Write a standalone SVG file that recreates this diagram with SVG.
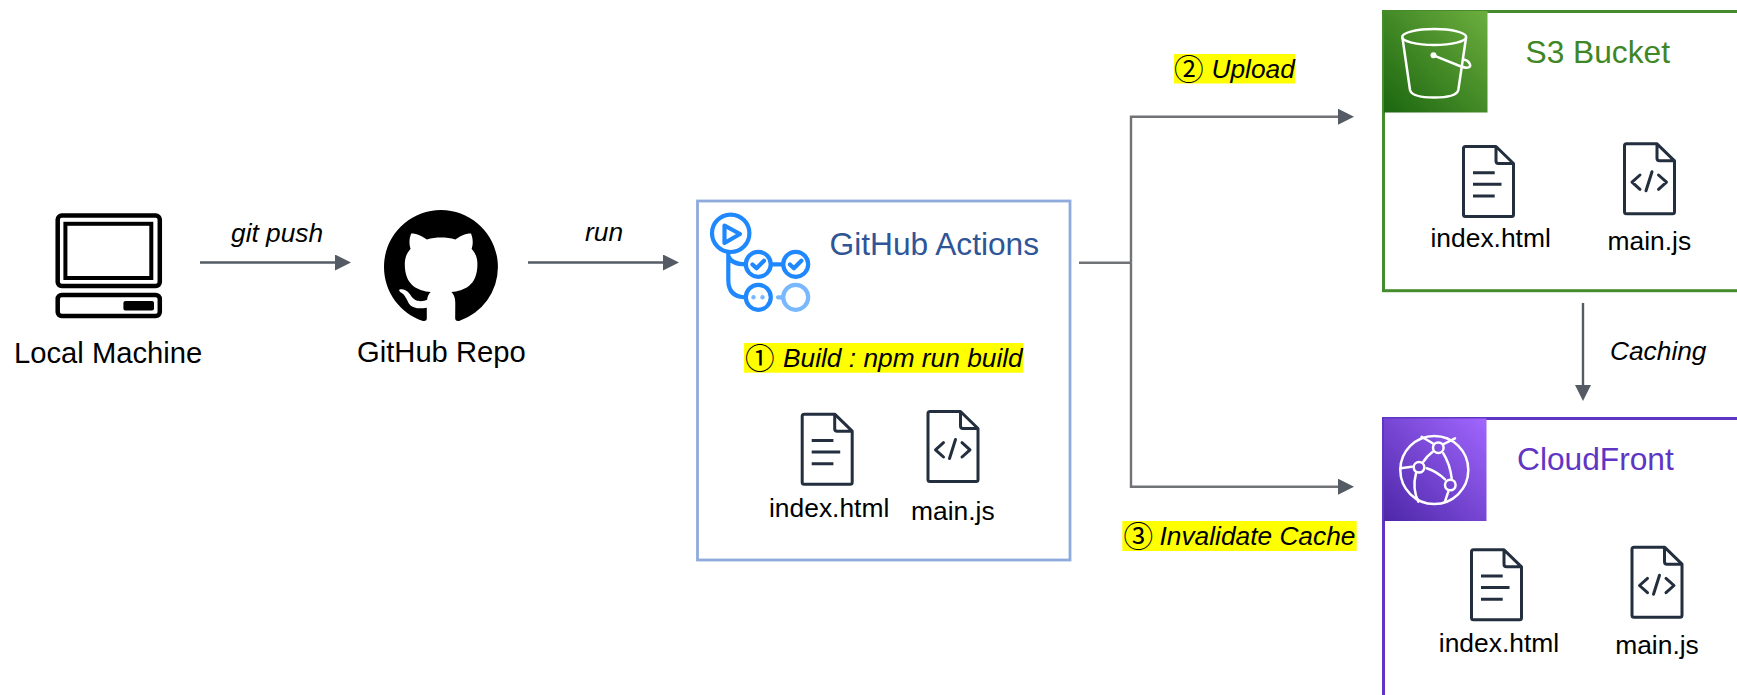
<svg xmlns="http://www.w3.org/2000/svg" width="1737" height="695" viewBox="0 0 1737 695">
<style>
text{font-family:"Liberation Sans",Arial,sans-serif;fill:#000}
.lb{font-size:26.4px}
.big{font-size:29.2px}
.ti{font-size:31.7px}
.it{font-size:26.3px;font-style:italic}
.cd{font-family:"Noto Sans CJK JP","DejaVu Sans",sans-serif;font-style:normal;font-size:29.6px}
.hl{fill:#ff0}
.con{fill:none;stroke:#545b64;stroke-width:2.4}
.doc{fill:none;stroke:#232f3e;stroke-width:3;stroke-linejoin:round}
.w{fill:none;stroke:#fff;stroke-width:2.5;stroke-linecap:round;stroke-linejoin:round}
.pc{fill:none;stroke:#000;stroke-width:4.5}
.ga{fill:none;stroke:#2088ff;stroke-width:4.2;stroke-linejoin:round;stroke-linecap:round}
.gl{fill:none;stroke:#79b8ff;stroke-width:4.2;stroke-linecap:round}
</style>
<defs>
<marker id="ah" markerUnits="userSpaceOnUse" markerWidth="16" markerHeight="16" refX="0" refY="8" orient="auto"><path d="M0 0L16 8L0 16z" fill="#545b64"/></marker>
<linearGradient id="gs" x1="0" y1="1" x2="1" y2="0"><stop offset="0" stop-color="#1b660f"/><stop offset="1" stop-color="#6cae3e"/></linearGradient>
<linearGradient id="gc" x1="0" y1="1" x2="1" y2="0"><stop offset="0" stop-color="#4d27a8"/><stop offset="1" stop-color="#a166ff"/></linearGradient>
<g id="fhtml"><path class="doc" d="M3.5 1.5H34L51.5 18.5V69.5Q51.5 71.500 49.500 71.500H3.500Q1.500 71.500 1.500 69.500V3.500Q1.500 1.500 3.500 1.500ZM34 1.500V16Q34 18.500 36.500 18.500H51.500"/><path class="doc" d="M11 27.700H32.700M11 39.300H39.500M11 51H32.700"/></g>
<g id="fjs"><path class="doc" d="M3.500 1.500H34L51.500 18.500V69.500Q51.500 71.500 49.500 71.500H3.500Q1.500 71.500 1.500 69.500V3.500Q1.500 1.500 3.500 1.500ZM34 1.500V16Q34 18.500 36.500 18.500H51.500"/><path class="doc" stroke-linecap="round" d="M17 32.700L9 39.800L17 47M35.500 32.700L43.500 39.800L35.500 47M29 29.500L23 48.500"/></g>
</defs>
<rect width="1737" height="695" fill="#fff"/>

<g id="connectors">
<path class="con" marker-end="url(#ah)" d="M200 262.500H335"/>
<path class="con" marker-end="url(#ah)" d="M528 262.500H663"/>
<path class="con" style="stroke:#707276" d="M1079 262.700H1131"/>
<path class="con" style="stroke:#707276" marker-end="url(#ah)" d="M1131 262.700V116.700H1338"/>
<path class="con" style="stroke:#707276" marker-end="url(#ah)" d="M1131 262.700V486.700H1338"/>
<path class="con" marker-end="url(#ah)" d="M1583 303V385"/>
</g>

<g id="edge-labels">
<text class="it" x="231" y="241.500">git push</text>
<text class="it" x="585" y="241">run</text>
<rect class="hl" x="1174" y="54" width="121" height="29.500"/>
<text class="it"><tspan class="cd" x="1174" y="80">②</tspan><tspan x="1211.500" y="77.500">Upload</tspan></text>
<rect class="hl" x="1122.300" y="521" width="234.400" height="30"/>
<text class="it"><tspan class="cd" x="1123.500" y="547">③</tspan><tspan x="1159.500" y="544.500">Invalidate Cache</tspan></text>
<text class="it" x="1610" y="359.500">Caching</text>
</g>

<g id="local-machine">
<rect class="pc" x="57.700" y="215.600" width="102.100" height="70.400" rx="4"/>
<rect class="pc" style="stroke-width:4" x="65.400" y="223.800" width="85.900" height="54.200"/>
<rect class="pc" x="57.700" y="295" width="102.100" height="21" rx="4"/>
<rect x="123.400" y="301" width="30.600" height="9.500" rx="2" fill="#000"/>
<text class="big" x="14" y="363">Local Machine</text>
</g>

<g id="github-repo">
<path transform="translate(384 210) scale(7.120)" fill="#000" d="M8 0C3.580 0 0 3.580 0 8c0 3.540 2.290 6.530 5.470 7.590.4.07.55-.17.55-.38 0-.19-.01-.82-.01-1.490-2.010.37-2.530-.49-2.690-.94-.09-.23-.48-.94-.82-1.130-.28-.15-.68-.52-.01-.53.63-.01 1.080.58 1.230.82.72 1.210 1.870.87 2.330.66.07-.52.28-.87.51-1.070-1.780-.2-3.640-.89-3.640-3.950 0-.87.31-1.590.82-2.150-.08-.2-.36-1.020.08-2.120 0 0 .67-.21 2.200.82.64-.18 1.320-.27 2-.27.68 0 1.360.09 2 .27 1.530-1.040 2.200-.82 2.200-.82.44 1.100.16 1.920.08 2.120.51.56.82 1.270.82 2.150 0 3.070-1.870 3.750-3.650 3.950.29.25.54.73.54 1.480 0 1.070-.01 1.930-.01 2.200 0 .21.15.46.55.38A8.013 8.013 0 0016 8c0-4.420-3.580-8-8-8z"/>
<text class="big" x="357" y="362">GitHub Repo</text>
</g>

<g id="github-actions">
<rect x="697.500" y="201" width="372.500" height="359" fill="none" stroke="#8faadc" stroke-width="2.800"/>
<circle class="ga" cx="730.700" cy="233.300" r="18.700"/>
<path class="ga" d="M724.500 225.500L740 234L724.500 243Z"/>
<path class="ga" d="M728.300 252V280Q728.300 297.300 746 297.300M728.300 256Q731 264.300 746 264.300M770.800 264.300H783.200"/>
<circle class="ga" cx="758.300" cy="264.300" r="12.500"/>
<circle class="ga" cx="795.700" cy="264.300" r="12.500"/>
<circle class="ga" cx="758.300" cy="297.300" r="12.500"/>
<circle class="gl" cx="795.700" cy="297.300" r="12.500"/>
<path class="gl" d="M778 297.300H782"/>
<circle cx="753.500" cy="297.300" r="2.200" fill="#79b8ff"/>
<circle cx="762.500" cy="297.300" r="2.200" fill="#79b8ff"/>
<path class="ga" d="M752.500 264.500L756.500 268.300L764 260.800M789.900 264.500L793.900 268.300L801.400 260.800"/>
<text class="ti" x="829.500" y="255" style="fill:#2f5597">GitHub Actions</text>
<rect class="hl" x="744" y="343" width="279.300" height="29.700"/>
<text class="it"><tspan class="cd" x="745" y="369.200">①</tspan><tspan x="783" y="366.700">Build : npm run build</tspan></text>
<use href="#fhtml" x="800.700" y="412.700"/>
<use href="#fjs" x="926.500" y="410"/>
<text class="lb" x="769" y="517">index.html</text>
<text class="lb" x="911" y="519.500">main.js</text>
</g>

<g id="s3-bucket">
<rect x="1383.500" y="11.500" width="420" height="279.200" fill="none" stroke="#458b2d" stroke-width="3"/>
<rect x="1384" y="11" width="103.500" height="101.500" fill="url(#gs)"/>
<ellipse class="w" cx="1434.200" cy="37" rx="32" ry="8"/>
<path class="w" d="M1402.500 38L1410 90Q1412 97.500 1434.200 97.500Q1456.500 97.500 1458.300 90L1466 38"/>
<circle cx="1433.500" cy="55.300" r="3" fill="#fff"/>
<path class="w" d="M1433.500 55.300L1461 66.500C1468 69 1471.500 67 1469.800 64C1468.500 61 1466 60 1463.500 59.500"/>
<text class="ti" x="1525.500" y="63.300" style="fill:#3f8624">S3 Bucket</text>
<use href="#fhtml" x="1462" y="145"/>
<use href="#fjs" x="1623" y="142.300"/>
<text class="lb" x="1430.500" y="247.300">index.html</text>
<text class="lb" x="1607.500" y="250">main.js</text>
</g>

<g id="cloudfront">
<rect x="1383.500" y="418.500" width="420" height="400" fill="none" stroke="#5f35c4" stroke-width="3"/>
<rect x="1384" y="418.500" width="102.500" height="102.500" fill="url(#gc)"/>
<circle class="w" cx="1434.300" cy="470" r="34"/>
<circle class="w" cx="1438.300" cy="447.700" r="5.300"/>
<circle class="w" cx="1419" cy="467.300" r="5.300"/>
<circle class="w" cx="1450.300" cy="485" r="5.300"/>
<path class="w" d="M1400.500 468.300L1411.800 466.700M1421.700 436.700L1433 443.500M1443.800 444L1455 438.300M1423.300 461.700Q1427 456 1432.700 451.700M1443.300 453.300Q1450 464 1451.700 478.300M1426.700 468.300Q1436 471 1445 479.300M1416 473.300Q1412 488 1418.300 501.700M1448.300 491.700L1445 501.700"/>
<text class="ti" x="1517" y="470.300" style="fill:#5f35c4">CloudFront</text>
<use href="#fhtml" x="1470" y="548.300"/>
<use href="#fjs" x="1630.500" y="545.700"/>
<text class="lb" x="1438.800" y="651.700">index.html</text>
<text class="lb" x="1615.200" y="654">main.js</text>
</g>
</svg>
